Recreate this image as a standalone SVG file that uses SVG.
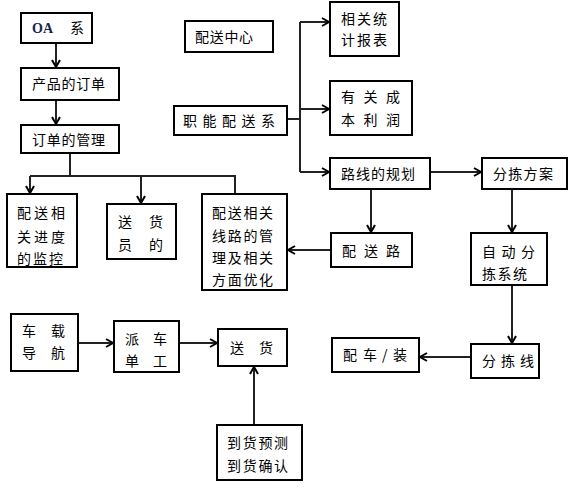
<svg xmlns="http://www.w3.org/2000/svg" width="571" height="487" viewBox="0 0 571 487">
<defs>
<marker id="ah" markerWidth="10" markerHeight="10" refX="8" refY="5" orient="auto" markerUnits="userSpaceOnUse">
<path d="M1,1 L8,5 L1,9" fill="none" stroke="#000" stroke-width="2"/>
</marker>
<style>
.b{fill:#fff;stroke:#000;stroke-width:2}
.t{font-family:"Noto Sans CJK SC","Noto Sans",sans-serif;font-size:14px;fill:#000}
.c{fill:none;stroke:#222;stroke-width:2}
.a{marker-end:url(#ah)}
</style>
</defs>
<rect width="571" height="487" fill="#fff"/>
<g id="connectors">
<path class="c a" d="M56,43 V67"/>
<path class="c a" d="M56,100 V124"/>
<path class="c" d="M70,153 V176 M30,176 H235 V194"/>
<path class="c a" d="M30,176 V193"/>
<path class="c a" d="M141,176 V203"/>
<path class="c" d="M287,119 H300 M300,22 V172"/>
<path class="c a" d="M300,22 H329"/>
<path class="c a" d="M300,109 H329"/>
<path class="c a" d="M300,172 H329"/>
<path class="c a" d="M430,172 H481"/>
<path class="c a" d="M371,189 V232"/>
<path class="c a" d="M512,189 V232"/>
<path class="c a" d="M330,250 H288"/>
<path class="c a" d="M512,285 V343"/>
<path class="c a" d="M471,357 H420"/>
<path class="c a" d="M78,343 H113"/>
<path class="c a" d="M179,343 H217"/>
<path class="c a" d="M254,425 V367"/>
</g>
<g id="oa"><rect class="b" x="21" y="13" width="71" height="30"/>
<text x="32" y="33" font-family="Liberation Serif,serif" font-weight="bold" font-size="14" fill="#1a2550">OA</text>
<text class="t" x="70" y="33">系</text></g>
<g id="order"><rect class="b" x="21" y="68" width="98" height="32"/><text class="t" x="32" y="89" letter-spacing="0.75">产品的订单</text></g>
<g id="ordermgmt"><rect class="b" x="21" y="125" width="98" height="28"/><text class="t" x="32" y="145" letter-spacing="0.75">订单的管理</text></g>
<g id="center"><rect class="b" x="185" y="21" width="88" height="31"/><text class="t" x="195" y="42" letter-spacing="0.7">配送中心</text></g>
<g id="func"><rect class="b" x="174" y="106" width="113" height="29"/><text class="t" x="183" y="126" letter-spacing="5.5">职能配送系</text></g>
<g id="report"><rect class="b" x="330" y="2" width="69" height="54"/><text class="t" x="341" y="24" letter-spacing="2">相关统</text><text class="t" x="341" y="45" letter-spacing="2">计报表</text></g>
<g id="cost"><rect class="b" x="330" y="81" width="82" height="54"/><text class="t" x="341" y="102" letter-spacing="8.5">有关成</text><text class="t" x="341" y="125" letter-spacing="8.5">本利润</text></g>
<g id="route"><rect class="b" x="330" y="158" width="100" height="31"/><text class="t" x="341" y="179" letter-spacing="1">路线的规划</text></g>
<g id="plan"><rect class="b" x="482" y="158" width="85" height="31"/><text class="t" x="493" y="179" letter-spacing="1.3">分拣方案</text></g>
<g id="progress"><rect class="b" x="7" y="194" width="70" height="73"/><text class="t" x="17" y="218" letter-spacing="3">配送相</text><text class="t" x="17" y="242" letter-spacing="3">关进度</text><text class="t" x="17" y="264" letter-spacing="2">的监控</text></g>
<g id="courier"><rect class="b" x="107" y="204" width="69" height="55"/><text class="t" x="118" y="227" letter-spacing="17">送货</text><text class="t" x="118" y="250" letter-spacing="17">员的</text></g>
<g id="routemgmt"><rect class="b" x="202" y="194" width="85" height="96"/><text class="t" x="212" y="218" letter-spacing="1.7">配送相关</text><text class="t" x="212" y="241" letter-spacing="1.7">线路的管</text><text class="t" x="212" y="263" letter-spacing="1.7">理及相关</text><text class="t" x="212" y="285" letter-spacing="1.7">方面优化</text></g>
<g id="deliveryroute"><rect class="b" x="331" y="233" width="81" height="34"/><text class="t" x="342" y="256" letter-spacing="8">配送路</text></g>
<g id="autosort"><rect class="b" x="471" y="233" width="76" height="52"/><text class="t" x="482" y="257" letter-spacing="5.5">自动分</text><text class="t" x="482" y="279" letter-spacing="1.5">拣系统</text></g>
<g id="sortline"><rect class="b" x="471" y="344" width="68" height="34"/><text class="t" x="482" y="366" letter-spacing="5">分拣线</text></g>
<g id="loading"><rect class="b" x="332" y="338" width="87" height="34"/><text class="t" x="343 363 382 393" y="360">配车/装</text></g>
<g id="nav"><rect class="b" x="11" y="314" width="67" height="57"/><text class="t" x="22" y="336" letter-spacing="15">车载</text><text class="t" x="22" y="358" letter-spacing="15">导航</text></g>
<g id="dispatch"><rect class="b" x="114" y="321" width="65" height="51"/><text class="t" x="125" y="344" letter-spacing="14">派车</text><text class="t" x="125" y="366" letter-spacing="14">单工</text></g>
<g id="deliver"><rect class="b" x="218" y="329" width="69" height="37"/><text class="t" x="230" y="353" letter-spacing="15">送货</text></g>
<g id="arrival"><rect class="b" x="217" y="425" width="85" height="55"/><text class="t" x="227" y="448" letter-spacing="1.7">到货预测</text><text class="t" x="227" y="471" letter-spacing="1.7">到货确认</text></g>
</svg>
